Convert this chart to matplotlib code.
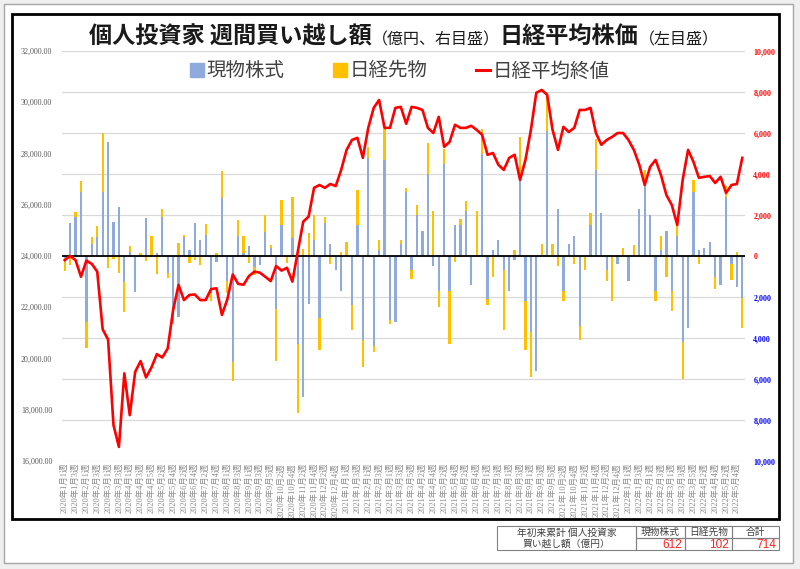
import matplotlib
matplotlib.use('Agg')
import matplotlib.pyplot as plt
from matplotlib.patches import Rectangle, Patch
from matplotlib.lines import Line2D
from matplotlib.ticker import FuncFormatter
import numpy as np

plt.rcParams['font.family'] = ['Noto Sans CJK JP', 'DejaVu Sans']

# ---- data (億円 / 円) ----
week_labels = [
    '2020年1月1週', '2020年1月3週', '2020年2月1週', '2020年2月3週', '2020年3月1週',
    '2020年3月3週', '2020年4月1週', '2020年4月3週', '2020年4月5週', '2020年5月2週',
    '2020年5月4週', '2020年6月2週', '2020年6月4週', '2020年7月2週', '2020年7月4週',
    '2020年8月1週', '2020年8月3週', '2020年9月1週', '2020年9月3週', '2020年9月5週',
    '2020年10月2週', '2020年10月4週', '2020年11月2週', '2020年11月4週', '2020年12月2週',
    '2020年12月4週',
    '2021年1月1週', '2021年1月3週', '2021年2月1週', '2021年2月3週', '2021年3月1週',
    '2021年3月3週', '2021年3月5週', '2021年4月2週', '2021年4月4週', '2021年5月2週',
    '2021年5月4週', '2021年6月2週', '2021年6月4週', '2021年7月1週', '2021年7月3週',
    '2021年8月1週', '2021年8月3週', '2021年9月1週', '2021年9月3週', '2021年9月5週',
    '2021年10月2週', '2021年10月4週', '2021年11月2週', '2021年11月4週', '2021年12月2週',
    '2021年12月4週',
    '2022年1月1週', '2022年1月3週', '2022年2月1週', '2022年2月3週', '2022年3月1週',
    '2022年3月3週', '2022年3月5週', '2022年4月2週', '2022年4月4週', '2022年5月2週',
    '2022年5月4週',
]

spot = [
    -100, 1590, 1920, 3140, -3200, 570, 940, 3140, 5540, 1670,
    2400, -1250, 210, -1770, 0, 1840, 0, 160, 1890, -810,
    -3330, -2990, 940, 290, 1590, 780, 1020, -1820, -280, 2810,
    -1220, -5150, 990, 130, 490, -520, -440, 1170, 370, -2590,
    1510, 0, 860, -4310, -6860, -2340, 800, -3000, 1600, 600,
    -700, -1700, 0, -2400, 1500, -4100, 4800, -4400, 300, 4700,
    -3100, -3200, 600, 3100, -700, 2000, 1200, 4000, -500, -1700,
    4500, -1700, 1500, 1500, 2200, -1400, 0, 5000, -2100, 300,
    800, -700, -1700, -200, 4000, -2200, -3700, -5600, 0, 6100,
    0, 2300, -1700, 600, 1000, -3400, 0, 1500, 4200, 2100,
    -700, 0, -400, 0, -1200, 0, 2300, 3700, 2000, -1700,
    300, 1200, -1700, 1000, -4200, -3500, 3100, 300, 400, 700,
    -1000, -1400, 2900, -400, -1500, -2050,
]

futures = [
    -650, -440, 240, 540, -1300, 340, 520, 2880, -600, -150,
    -850, -1500, 290, 0, 130, -240, 1000, -890, 390, -280,
    0, 620, 80, -330, -200, -440, 520, -370, 160, 1350,
    -600, -940, 760, 850, -360, -410, 0, 850, 160, -2540,
    1220, -360, 2000, -3370, 330, 1100, 1200, -1600, 300, -400,
    0, 200, 700, -1200, 1700, -1300, 500, -300, 500, 1500,
    -200, 0, 200, 200, -400, 500, 0, 1500, 2200, -800,
    700, -2600, -300, 300, 500, 0, 2200, 1200, -300, -1000,
    0, -2900, 0, 300, 1800, -2400, -2200, 0, 600, 1900,
    600, -500, -500, 0, -400, -700, -700, 600, 1500, 0,
    -500, -2200, 0, 400, 0, 550, 0, 500, 0, -500,
    700, -1000, -1000, 600, -1800, 0, 600, -400, 0, 0,
    -600, 0, 500, -770, 200, -1470,
]

nikkei = [
    23840, 24000, 23840, 23190, 23820, 23690, 23390, 21140, 20740, 17400,
    16550, 19420, 17790, 19480, 19900, 19260, 19650, 20170, 20040, 20390,
    21890, 22870, 22280, 22480, 22500, 22280, 22280, 22710, 22740, 21700,
    22310, 23280, 22910, 22880, 23220, 23390, 23350, 23190, 23020, 23610,
    23430, 23540, 23000, 24170, 25340, 25540, 26660, 26770, 26660, 26810,
    26730, 27360, 28140, 28530, 28610, 27830, 29000, 29780, 30090, 29000,
    29000, 29780, 29820, 29160, 29820, 29780, 29700, 29000, 28800, 29430,
    28260, 28450, 29120, 29000, 29000, 29080, 28920, 28730, 27950, 28020,
    27560, 27360, 27830, 27950, 26970, 27750, 28920, 30370, 30480, 30290,
    28920, 28140, 29040, 28840, 29000, 29700, 29700, 29780, 28800, 28340,
    28530, 28650, 28800, 28800, 28530, 28140, 27560, 26770, 27480, 27750,
    27160, 26380, 25990, 25210, 26970, 28140, 27670, 27050, 27090, 27120,
    26850, 27090, 26460, 26770, 26810, 27830,
]

ytd_headers = ['現物株式', '日経先物', '合計']
ytd_values = [612, 102, 714]

W, H = 800, 569


def box(x0, y0, x1, y1, **kw):
    # pixel coords (top-left origin) -> figure rectangle
    r = Rectangle((x0 / W, 1 - y1 / H), (x1 - x0) / W, (y1 - y0) / H,
                  transform=fig.transFigure, **kw)
    fig.patches.append(r)
    return r


fig = plt.figure(figsize=(8, 5.69), dpi=100, facecolor='#efefef')
box(4, 4, 793, 563, facecolor='white', edgecolor='#a6a6a6', lw=1, zorder=-10)
box(12, 14, 779, 519, fill=False, edgecolor='black', lw=2, zorder=5)

ax = fig.add_axes([62 / W, 1 - 461 / H, (745 - 62) / W, (461 - 51) / H])
ax2 = ax.twinx()

x = np.arange(len(spot))
spot_a = np.array(spot, dtype=float)
fut_a = np.array(futures, dtype=float)
fut_bottom = np.where(np.sign(fut_a) == np.sign(spot_a), spot_a, 0)

ax.bar(x, spot_a, width=0.42, color='#8FAADC', zorder=2)
ax.bar(x, fut_a, bottom=fut_bottom, width=0.42, color='#FFC000', zorder=2)
ax.axhline(0, color='black', lw=1.3, zorder=3)
ax.set_ylim(-10000, 10000)
ax.set_xlim(-0.5, len(spot) - 0.5)
ax.set_yticks(np.arange(-10000, 10001, 2000))
ax.grid(axis='y', color='#d9d9d9', lw=0.9, zorder=0)
ax.set_axisbelow(True)
ax.yaxis.tick_right()
ax.yaxis.set_major_formatter(FuncFormatter(lambda v, p: f'{abs(v):,.0f}'))
ax.tick_params(axis='y', length=0, pad=6, labelsize=5.8)
for lab in ax.get_yticklabels():
    lab.set_family(['Liberation Serif'])
    lab.set_fontweight('bold')
for lab, v in zip(ax.get_yticklabels(), ax.get_yticks()):
    lab.set_color('#ff0000' if v >= 0 else '#0000ff')

ax.set_xticks(np.arange(0, 2 * len(week_labels), 2))
ax.set_xticklabels(week_labels, rotation=90, fontsize=6, color='#8c8c8c',
                   family=['Liberation Serif', 'Noto Sans CJK JP'], va='top')
ax.tick_params(axis='x', length=0, pad=1.5)

ax2.plot(x, nikkei, color='#ff0000', lw=1.9, zorder=4)
ax2.set_ylim(16000, 32000)
ax2.set_yticks(np.arange(16000, 32001, 2000))
ax2.yaxis.tick_left()
ax2.yaxis.set_major_formatter(FuncFormatter(lambda v, p: f'{v:,.2f}'))
ax2.tick_params(axis='y', length=0, pad=7, labelsize=5.8, labelcolor='#595959')
for lab in ax2.get_yticklabels():
    lab.set_family(['Liberation Serif'])

for a in (ax, ax2):
    for s in a.spines.values():
        s.set_visible(False)

# title made of pieces with different sizes
t1 = fig.text(89 / W, 1 - 48 / H, '個人投資家 週間買い越し額', fontsize=16.7,
              fontweight='bold', va='bottom', color='#1a1a1a')
t2 = ax.annotate('（億円、右目盛）', xy=(1, 0), xycoords=t1, fontsize=11.5,
                 va='bottom', color='#1a1a1a', annotation_clip=False)
t3 = ax.annotate('日経平均株価', xy=(1, 0), xycoords=t2, fontsize=16.7,
                 fontweight='bold', va='bottom', color='#1a1a1a', annotation_clip=False)
ax.annotate('（左目盛）', xy=(1, 0), xycoords=t3, fontsize=11.5,
            va='bottom', color='#1a1a1a', annotation_clip=False)

handles = [Patch(color='#8FAADC'), Patch(color='#FFC000'),
           Line2D([], [], color='#ff0000', lw=2.2)]
fig.legend(handles, ['現物株式', '日経先物', '日経平均終値'], loc='center',
           bbox_to_anchor=(0.5, 1 - 71 / H), ncol=3, frameon=False,
           fontsize=14, handlelength=0.7, handleheight=0.7,
           handletextpad=0.15, columnspacing=2.5, labelcolor='#404040')

# year-to-date table under the chart
edge = dict(fill=False, edgecolor='#808080', lw=0.8, zorder=6)
box(497, 526, 636, 550, **edge)
fig.text((497 + 636) / 2 / W, 1 - 538 / H, '年初来累計 個人投資家\n買い越し額（億円）',
         ha='center', va='center', fontsize=7, color='#404040', linespacing=1.1)
col_x = [636, 685, 732, 779]
for i, (hd, val) in enumerate(zip(ytd_headers, ytd_values)):
    box(col_x[i], 526, col_x[i + 1], 538, **edge)
    box(col_x[i], 538, col_x[i + 1], 550, **edge)
    fig.text((col_x[i] + col_x[i + 1]) / 2 / W, 1 - 532 / H, hd, ha='center',
             va='center', fontsize=7, color='#404040')
    fig.text((col_x[i + 1] - 3) / W, 1 - 544.5 / H, f'{val:,}', ha='right',
             va='center', fontsize=8.5, color='#ff2020',
             family=['Liberation Sans'])

fig.savefig('out.png', dpi=100, facecolor=fig.get_facecolor())
